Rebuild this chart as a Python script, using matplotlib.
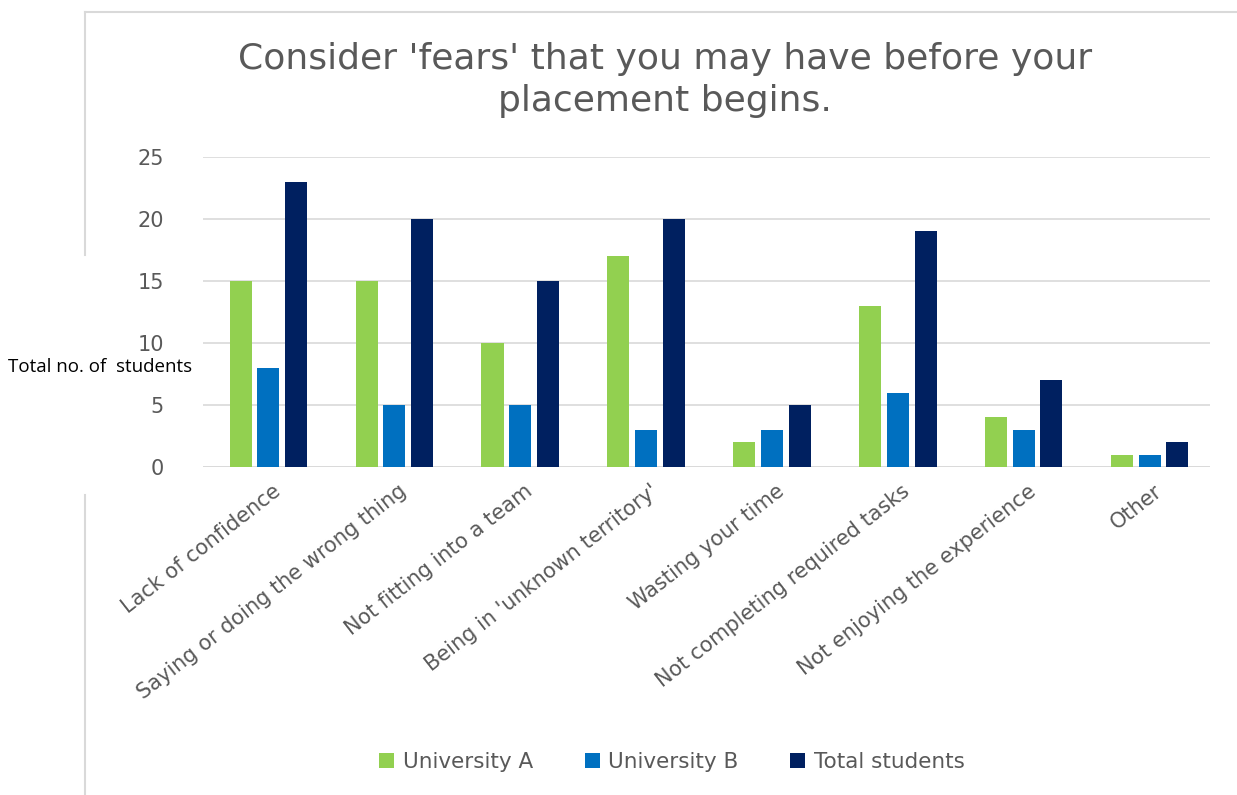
import numpy as np
import matplotlib.pyplot as plt
from matplotlib.lines import Line2D

categories = ["Lack of confidence", "Saying or doing the wrong thing", "Not fitting into a team",
              "Being in 'unknown territory'", "Wasting your time", "Not completing required tasks",
              "Not enjoying the experience", "Other"]
uni_a = [15, 15, 10, 17, 2, 13, 4, 1]
uni_b = [8, 5, 5, 3, 3, 6, 3, 1]
total = [23, 20, 15, 20, 5, 19, 7, 2]
series = ["University A", "University B", "Total students"]
colors = ["#92d050", "#0070c0", "#002060"]

W, H = 1237, 795
fig = plt.figure(figsize=(W / 100, H / 100), dpi=100)
ax = fig.add_axes([203 / W, 1 - 467 / H, (1210 - 203) / W, (467 - 157) / H])

x = np.arange(len(categories))
bw = 0.175
step = 0.22
for i, (vals, c, name) in enumerate(zip([uni_a, uni_b, total], colors, series)):
    ax.bar(x + (i - 1) * step + 0.02, vals, width=bw, color=c, label=name, zorder=3)

ax.set_xlim(-0.5, len(categories) - 0.5)
ax.set_ylim(0, 25)
ax.set_yticks(range(0, 26, 5))
ax.yaxis.grid(True, color="#d9d9d9", linewidth=1.2, zorder=0)
for s in ax.spines.values():
    s.set_visible(False)
ax.tick_params(axis="both", length=0, colors="#595959")
ax.tick_params(axis="y", pad=28, labelsize=15)
ax.set_xticks(x + 0.05)
ax.set_xticklabels(categories, rotation=38, ha="right", rotation_mode="anchor", fontsize=15)
ax.tick_params(axis="x", pad=10)
ax.axhline(0, color="#d9d9d9", linewidth=1.2, zorder=2)

fig.text(665 / W, 1 - 80 / H, "Consider 'fears' that you may have before your\nplacement begins.",
         ha="center", va="center", fontsize=26, color="#595959", linespacing=1.3)

ax.legend(loc="center", bbox_to_anchor=(672 / W, 1 - 762 / H), bbox_transform=fig.transFigure,
          ncol=3, frameon=False, fontsize=15.5, handlelength=0.7, handleheight=0.7, columnspacing=2.4,
          handletextpad=0.4, labelcolor="#595959")

fig.text(8 / W, 1 - 367 / H, "Total no. of  students", ha="left", va="center", fontsize=13.5,
         color="black", family="Open Sans")

# chart border (partly hidden by the pasted axis label)
bc = "#d9d9d9"
fig.add_artist(Line2D([85 / W, 1], [1 - 12 / H, 1 - 12 / H], color=bc, linewidth=1.5))
fig.add_artist(Line2D([85 / W, 85 / W], [1 - 12 / H, 1 - 255 / H], color=bc, linewidth=1.5))
fig.add_artist(Line2D([85 / W, 85 / W], [1 - 495 / H, 0], color=bc, linewidth=1.5))

plt.savefig("out.png", dpi=100)
